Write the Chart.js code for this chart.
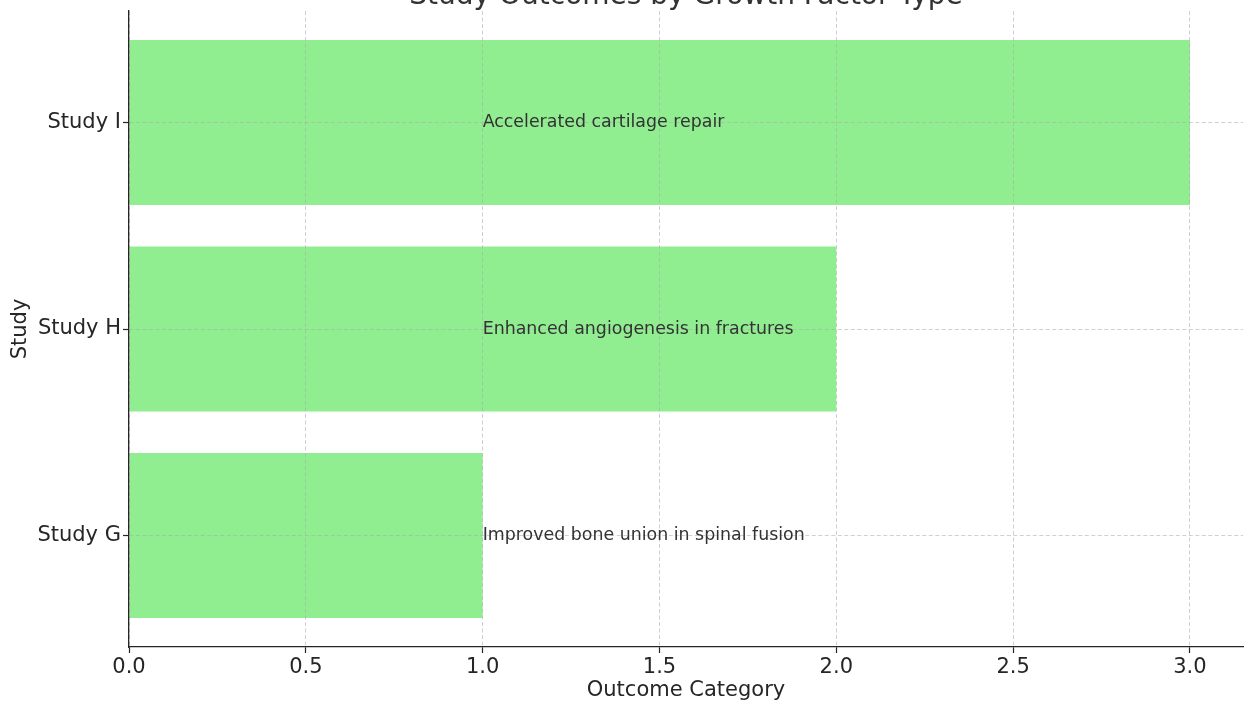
<!DOCTYPE html>
<html>
<head>
<meta charset="utf-8">
<script src="https://cdn.jsdelivr.net/npm/chart.js@4.4.1/dist/chart.umd.min.js"></script>
<style>
  html, body { margin: 0; padding: 0; background: #ffffff; }
  #wrap { position: relative; width: 1246px; height: 704px; overflow: hidden; }
  canvas { display: block; }
</style>
</head>
<body>
<div id="wrap"><canvas id="chart" width="1246" height="704"></canvas></div>
<script>
// Studies, their outcome category and the finding reported by each
const studies = ['Study G', 'Study H', 'Study I'];
const outcomeCategory = [1, 2, 3];
const outcomeNotes = [
  'Improved bone union in spinal fusion',
  'Enhanced angiogenesis in fractures',
  'Accelerated cartilage repair'
];
const xTicks = [0.0, 0.5, 1.0, 1.5, 2.0, 2.5, 3.0];

const chartTitle = 'Study Outcomes by Growth Factor Type';
const xTitle = 'Outcome Category';
const yTitle = 'Study';

// Finding text is anchored at this x value inside every bar
const NOTE_X = 1.0;

const FONT = "'DejaVu Sans', 'Liberation Sans', sans-serif";
const INK = '#262626';
const GRID = 'rgba(170,170,170,0.55)';

const titlePlugin = {
  id: 'topTitle',
  afterDraw(chart) {
    const { ctx, chartArea } = chart;
    ctx.save();
    ctx.font = '28px ' + FONT;
    ctx.fillStyle = '#333333';
    ctx.textAlign = 'center';
    ctx.textBaseline = 'alphabetic';
    ctx.fillText(chartTitle, (chartArea.left + chartArea.right) / 2, 4);
    ctx.restore();
  }
};

const notesPlugin = {
  id: 'barNotes',
  afterDraw(chart) {
    const { ctx } = chart;
    const xs = chart.scales.x, ys = chart.scales.y;
    ctx.save();
    ctx.font = '17.4px ' + FONT;
    ctx.fillStyle = '#333333';
    ctx.textAlign = 'left';
    ctx.textBaseline = 'middle';
    outcomeNotes.forEach((note, i) => {
      ctx.fillText(note, xs.getPixelForValue(NOTE_X), ys.getPixelForValue(i));
    });
    ctx.restore();
  }
};

new Chart(document.getElementById('chart'), {
  type: 'bar',
  data: {
    datasets: [{
      data: outcomeCategory.map((v, i) => ({ x: v, y: i })),
      backgroundColor: '#90EE90',
      borderWidth: 0,
      categoryPercentage: 0.8,
      barPercentage: 1.0
    }]
  },
  options: {
    indexAxis: 'y',
    responsive: false,
    animation: false,
    layout: { padding: { top: 11, right: 3, left: 0, bottom: 0 } },
    plugins: {
      legend: { display: false },
      tooltip: { enabled: false },
      title: { display: false }
    },
    scales: {
      x: {
        type: 'linear',
        min: 0,
        max: 3.15,
        afterBuildTicks(scale) { scale.ticks = xTicks.map(v => ({ value: v })); },
        afterFit(scale) {
          scale.height = 57;
          scale.paddingLeft = 0;
          scale.paddingRight = 0;
        },
        ticks: {
          color: INK,
          font: { family: FONT, size: 21 },
          padding: 2,
          callback: v => Number(v).toFixed(1)
        },
        grid: {
          z: 1,
          color: GRID,
          lineWidth: 1,
          tickColor: INK,
          tickLength: 6,
          tickWidth: 1.2
        },
        border: { z: 2, display: true, color: INK, width: 1.3, dash: [4, 2.5] },
        title: {
          display: true,
          text: xTitle,
          color: INK,
          font: { family: FONT, size: 21 },
          padding: { top: 0, bottom: 1 }
        }
      },
      y: {
        type: 'linear',
        min: -0.54,
        max: 2.54,
        offset: false,
        afterBuildTicks(scale) { scale.ticks = studies.map((_, i) => ({ value: i })); },
        afterFit(scale) {
          scale.width = 129;
          scale.paddingTop = 0;
          scale.paddingBottom = 0;
        },
        ticks: {
          color: INK,
          font: { family: FONT, size: 21 },
          padding: 2,
          callback: v => studies[v] ?? ''
        },
        grid: {
          z: 1,
          offset: false,
          color: GRID,
          lineWidth: 1,
          tickColor: INK,
          tickLength: 6,
          tickWidth: 1.2
        },
        border: { z: 2, display: true, color: INK, width: 1.3, dash: [4, 2.5] },
        title: {
          display: true,
          text: yTitle,
          color: INK,
          font: { family: FONT, size: 21 },
          padding: { top: 8, bottom: 0 }
        }
      }
    }
  },
  plugins: [titlePlugin, notesPlugin]
});
</script>
</body>
</html>
